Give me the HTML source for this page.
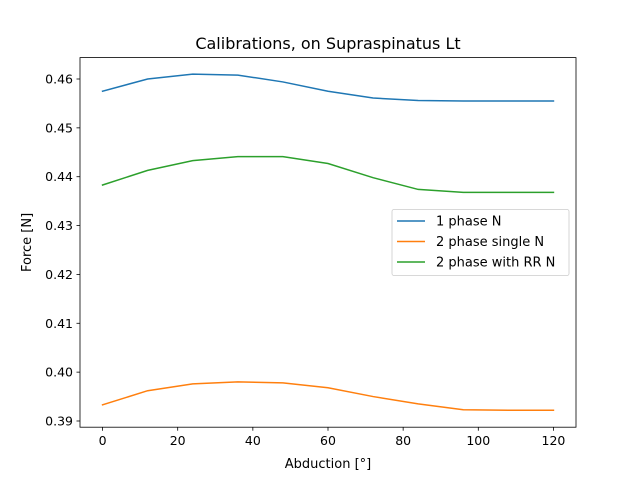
<!DOCTYPE html>
<html><head><meta charset="utf-8"><style>
body{margin:0;background:#fff;}
svg text{font-family:"DejaVu Sans","Liberation Sans",sans-serif;fill:#000;}
</style></head><body>
<svg id="c" width="640" height="480" xmlns="http://www.w3.org/2000/svg"></svg>
<script>
const xs = [0,12,24,36,48,60,72,84,96,108,120];
const seriesNames = ["1 phase N","2 phase single N","2 phase with RR N"];
const seriesColors = ["#1f77b4","#ff7f0e","#2ca02c"];
const blue = [0.4575,0.4600,0.4610,0.4608,0.4594,0.4575,0.4561,0.4556,0.4555,0.4555,0.4555];
const orange = [0.3933,0.3962,0.3976,0.3980,0.3978,0.3968,0.3950,0.3935,0.3923,0.3922,0.3922];
const green = [0.4383,0.4413,0.4433,0.4441,0.4441,0.4427,0.4398,0.4374,0.4368,0.4368,0.4368];
const xTicks = [0,20,40,60,80,100,120];
const yTicks = [0.39,0.40,0.41,0.42,0.43,0.44,0.45,0.46];

const L=80,R=576,T=57.6,B=427.2;
const xmin=-6,xmax=126,ymin=0.38873,ymax=0.46438;
const sx=v=>L+(v-xmin)/(xmax-xmin)*(R-L);
const sy=v=>B-(v-ymin)/(ymax-ymin)*(B-T);
const svg=document.getElementById('c');
const NS="http://www.w3.org/2000/svg";
function mk(tag,attrs,name,parent){const e=document.createElementNS(NS,tag);for(const k in attrs)e.setAttribute(k,attrs[k]);


(parent||svg).appendChild(e);return e;}

const title=mk('text',{x:(L+R)/2,y:49,'text-anchor':'middle','font-size':16},'chart-title');title.textContent="Calibrations, on Supraspinatus Lt";

[blue,orange,green].forEach((s,i)=>{
  const pts=s.map((v,j)=>sx(xs[j]).toFixed(2)+','+sy(v).toFixed(2)).join(' ');
  mk('polyline',{points:pts,fill:'none',stroke:seriesColors[i],'stroke-width':1.5,'stroke-linecap':'square'},'series-line');
});

mk('rect',{x:L,y:T,width:R-L,height:B-T,fill:'none',stroke:'#000','stroke-width':0.8},'plot-frame');

xTicks.forEach(t=>{
  const x=sx(t);
  mk('line',{x1:x,x2:x,y1:B,y2:B+3.5,stroke:'#000','stroke-width':0.8},'x-tick');
  const tx=mk('text',{x:x,y:B+18,'text-anchor':'middle','font-size':12.5},'x-tick-label');tx.textContent=t;
});
yTicks.forEach(t=>{
  const y=sy(t);
  mk('line',{x1:L-3.5,x2:L,y1:y,y2:y,stroke:'#000','stroke-width':0.8},'y-tick');
  const ty=mk('text',{x:L-7,y:y+4.5,'text-anchor':'end','font-size':12.5},'y-tick-label');ty.textContent=t.toFixed(2);
});
const xl=mk('text',{x:(L+R)/2,y:468,'text-anchor':'middle','font-size':13},'x-axis-title');xl.textContent="Abduction [°]";
const yl=mk('text',{x:0,y:0,'text-anchor':'middle','font-size':13,transform:`translate(31,${(T+B)/2}) rotate(-90)`},'y-axis-title');yl.textContent="Force [N]";

const lg=mk('g',{},'legend');
mk('rect',{x:392,y:209.5,width:177,height:66,rx:2,fill:'#fff','fill-opacity':0.8,stroke:'#ccc','stroke-width':0.8},'legend-box',lg);
seriesNames.forEach((n,i)=>{
  const y=221+i*20.5;
  mk('line',{x1:397,x2:425,y1:y,y2:y,stroke:seriesColors[i],'stroke-width':1.5},'legend-swatch',lg);
  const t=mk('text',{x:436,y:y+4.5,'font-size':13},'legend-entry',lg);t.textContent=n;
});
</script>
</body></html>
